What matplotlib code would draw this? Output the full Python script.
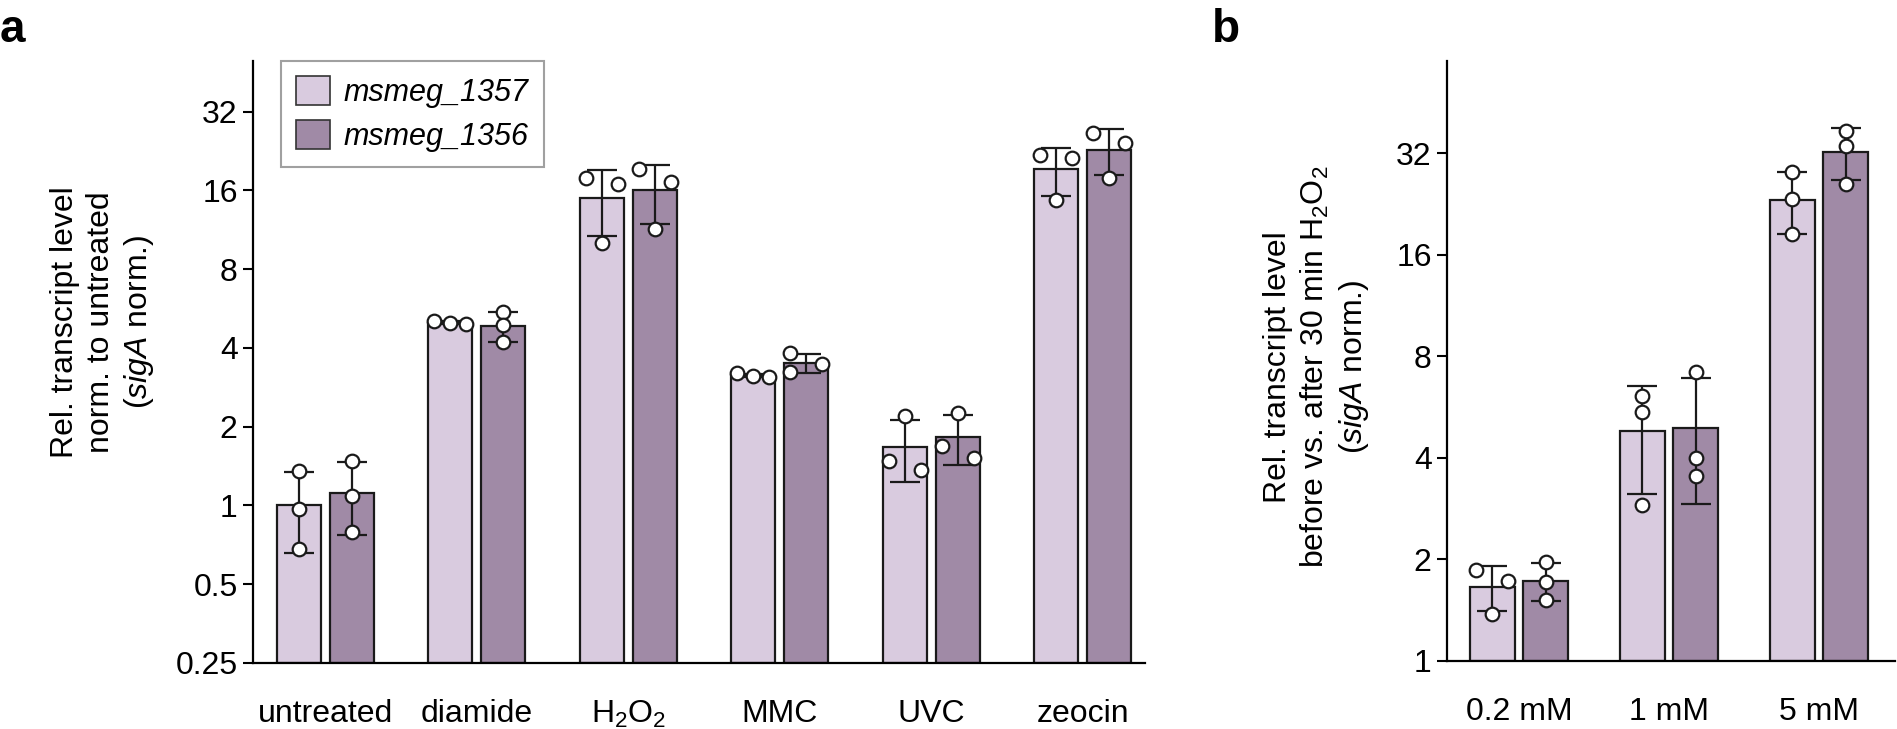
import numpy as np
import matplotlib

matplotlib.use("Agg")
import matplotlib.pyplot as plt
from matplotlib.patches import Patch
from matplotlib.ticker import FixedLocator, FixedFormatter, NullLocator

plt.rcParams["font.family"] = ["Liberation Sans", "DejaVu Sans"]
plt.rcParams["mathtext.fontset"] = "custom"
plt.rcParams["mathtext.rm"] = "Liberation Sans"
plt.rcParams["mathtext.it"] = "Liberation Sans:italic"

GENES = ["msmeg_1357", "msmeg_1356"]
COLORS = ["#d9cbdf", "#a08aa6"]

# panel a: stress conditions
stress = ["untreated", "diamide", r"H$_2$O$_2$", "MMC", "UVC", "zeocin"]
stress_1357_pts = [[1.35, 0.97, 0.68], [5.00, 5.05, 4.95], [17.9, 16.9, 10.05],
                   [3.20, 3.13, 3.10], [2.20, 1.37, 1.48], [21.9, 21.2, 14.65]]
stress_1356_pts = [[1.48, 1.09, 0.79], [5.49, 4.89, 4.22], [19.3, 17.3, 11.4],
                   [3.83, 3.47, 3.24], [2.26, 1.69, 1.52], [26.6, 24.4, 17.8]]
stress_1357_mean = [1.00, 5.00, 14.95, 3.14, 1.68, 19.25]
stress_1357_sd = [0.34, 0.05, 4.27, 0.05, 0.45, 4.0]
stress_1356_mean = [1.12, 4.87, 16.0, 3.51, 1.82, 22.9]
stress_1356_sd = [0.35, 0.64, 4.1, 0.30, 0.39, 4.6]
ticks_a = [0.25, 0.5, 1, 2, 4, 8, 16, 32]
tick_labels_a = ["0.25", "0.5", "1", "2", "4", "8", "16", "32"]

# panel b: H2O2 concentrations
doses = ["0.2 mM", "1 mM", "5 mM"]
dose_1357_pts = [[1.86, 1.73, 1.38], [6.1, 5.47, 2.9], [28.1, 23.4, 18.4]]
dose_1356_pts = [[1.96, 1.72, 1.52], [7.2, 4.0, 3.54], [37.2, 33.6, 26.0]]
dose_1357_mean = [1.66, 4.82, 23.3]
dose_1357_sd = [0.25, 1.7, 4.85]
dose_1356_mean = [1.73, 4.91, 32.3]
dose_1356_sd = [0.22, 2.0, 5.7]
ticks_b = [1, 2, 4, 8, 16, 32]
tick_labels_b = ["1", "2", "4", "8", "16", "32"]

W, H = 1897, 729
FS = 23


def box(left, top, right, bottom):
    return [left / W, 1 - bottom / H, (right - left) / W, (bottom - top) / H]


def swarm_x(ax, xc, ys, diam=13, step=16):
    # spread colliding replicate points sideways, Prism-like
    pix = ax.transData.transform([(xc, y) for y in ys])
    cx = pix[0, 0]
    order = np.argsort(-pix[:, 1], kind="stable")
    clusters = [[order[0]]]
    for i in order[1:]:
        if abs(pix[clusters[-1][-1], 1] - pix[i, 1]) < diam:
            clusters[-1].append(i)
        else:
            clusters.append([i])
    xs = np.zeros(len(ys))
    for cl in clusters:
        if len(cl) == 1:
            mult = [0]
        elif len(cl) == 2:
            mult = [-1, 1]
        elif abs(pix[cl[0], 1] - pix[cl[-1], 1]) < diam:
            mult = [-1, 0, 1]
        else:
            mult = [-1, 1, -1]
        for i, m in zip(cl, mult):
            xs[i] = ax.transData.inverted().transform((cx + m * step, pix[i, 1]))[0]
    return xs


def style_axis(ax, ticks, labels, ylim, xlim, cats):
    ax.set_yscale("log", base=2)
    ax.set_ylim(*ylim)
    ax.set_xlim(*xlim)
    ax.yaxis.set_major_locator(FixedLocator(ticks))
    ax.yaxis.set_major_formatter(FixedFormatter(labels))
    ax.yaxis.set_minor_locator(NullLocator())
    ax.set_xticks(range(len(cats)))
    ax.set_xticklabels(cats)
    for side in ("top", "right"):
        ax.spines[side].set_visible(False)
    for side in ("left", "bottom"):
        ax.spines[side].set_linewidth(1.6)
    ax.tick_params(axis="y", length=7, width=1.5, pad=4, labelsize=FS)
    ax.tick_params(axis="x", length=0, pad=26, labelsize=FS)


def draw_bars(ax, means, sds, pts, offsets, width):
    base = ax.get_ylim()[0]
    for g in range(2):
        for i in range(len(means[g])):
            x = i + offsets[g]
            ax.bar(x, means[g][i] - base, width=width, bottom=base,
                   color=COLORS[g], edgecolor="#1a1a1a", linewidth=1.6, zorder=1)
            ax.errorbar(x, means[g][i], yerr=sds[g][i], fmt="none", ecolor="#1a1a1a",
                        elinewidth=1.6, capsize=11, capthick=1.6, zorder=2)
            xs = swarm_x(ax, x, pts[g][i])
            ax.plot(xs, pts[g][i], "o", ms=9.8, mfc="white", mec="#1a1a1a",
                    mew=1.6, zorder=3, clip_on=False)


fig = plt.figure(figsize=(W / 100, H / 100), dpi=100)
ax_a = fig.add_axes(box(253, 61, 1145, 663))
ax_b = fig.add_axes(box(1447, 61, 1895, 661))

style_axis(ax_a, ticks_a, tick_labels_a, (0.25, 50), (-0.478, 5.41), stress)
style_axis(ax_b, ticks_b, tick_labels_b, (1, 60), (-0.48, 2.507), doses)

draw_bars(ax_a, [stress_1357_mean, stress_1356_mean], [stress_1357_sd, stress_1356_sd],
          [stress_1357_pts, stress_1356_pts], (-0.175, 0.175), 0.29)
draw_bars(ax_b, [dose_1357_mean, dose_1356_mean], [dose_1357_sd, dose_1356_sd],
          [dose_1357_pts, dose_1356_pts], (-0.177, 0.177), 0.30)

handles = [Patch(facecolor=c, edgecolor="#333333", linewidth=1.2) for c in COLORS]
leg = ax_a.legend(handles, GENES, loc="upper left", bbox_to_anchor=(28 / 892, 1.0),
                  borderaxespad=0, prop={"style": "italic", "size": 22},
                  handlelength=1.1, handleheight=1.08, handletextpad=0.45,
                  labelspacing=0.38, borderpad=0.5, fancybox=False, frameon=True)
leg.get_frame().set_edgecolor("#888888")
leg.get_frame().set_linewidth(1.5)

fig.text(103 / W, 1 - 322 / H,
         "Rel. transcript level\nnorm. to untreated\n($\\mathit{sigA}$ norm.)",
         rotation=90, ha="center", va="center", fontsize=FS, linespacing=1.25,
         multialignment="center")
fig.text(1317 / W, 1 - 367 / H,
         "Rel. transcript level\nbefore vs. after 30 min H$_2$O$_2$\n($\\mathit{sigA}$ norm.)",
         rotation=90, ha="center", va="center", fontsize=FS, linespacing=1.25,
         multialignment="center")

fig.text(0 / W, 1 - 8 / H, "a", fontsize=33, fontweight="bold", ha="left", va="top")
fig.text(1212 / W, 1 - 8 / H, "b", fontsize=33, fontweight="bold", ha="left", va="top")

fig.savefig("out.png", dpi=100)
